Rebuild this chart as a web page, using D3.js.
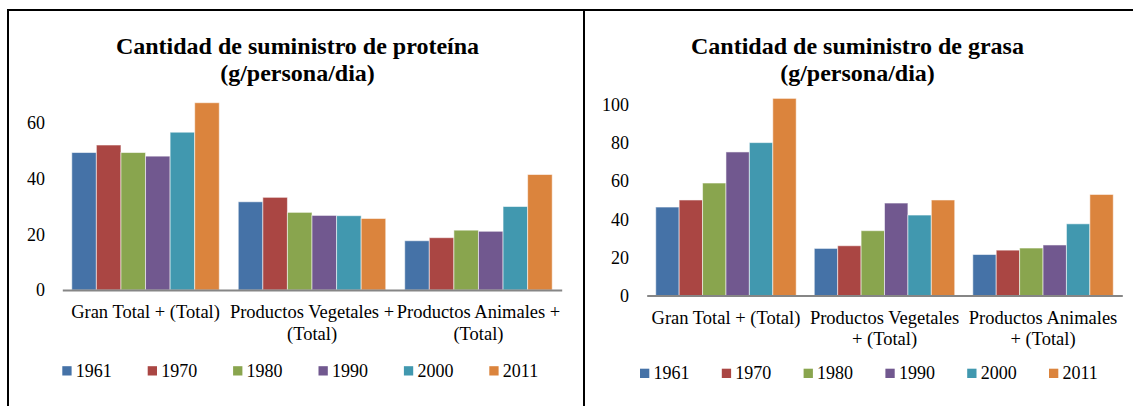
<!DOCTYPE html>
<html>
<head>
<meta charset="utf-8">
<script src="https://cdn.jsdelivr.net/npm/d3@7"></script>
<style>
  html, body { margin: 0; padding: 0; background: #fff; }
  svg { display: block; }
  text { font-family: "Liberation Serif", "Times New Roman", serif; fill: #000; }
</style>
</head>
<body>
<svg id="chart" width="1133" height="406"></svg>
<script>
// ---- Data ----
const years = ["1961", "1970", "1980", "1990", "2000", "2011"];
const yearColors = ["#4572A7", "#AA4643", "#89A54E", "#71588F", "#4198AF", "#DB843D"];

const proteinTitle = ["Cantidad de suministro de proteína", "(g/persona/dia)"];
const proteinCategories = ["Gran Total + (Total)", "Productos Vegetales +|(Total)", "Productos Animales +|(Total)"];
const proteinGranTotal = [49.4, 52.1, 49.4, 48.1, 56.7, 67.3];
const proteinVegetales = [31.7, 33.3, 27.9, 26.8, 26.7, 25.7];
const proteinAnimales  = [17.7, 18.8, 21.5, 21.1, 30.0, 41.5];
const proteinTicks = [0, 20, 40, 60];

const fatTitle = ["Cantidad de suministro de grasa", "(g/persona/dia)"];
const fatCategories = ["Gran Total + (Total)", "Productos Vegetales|+ (Total)", "Productos Animales|+ (Total)"];
const fatGranTotal = [46.4, 50.1, 59.0, 75.3, 80.2, 103.4];
const fatVegetales = [24.7, 26.1, 34.0, 48.5, 42.2, 50.1];
const fatAnimales  = [21.5, 23.8, 24.9, 26.5, 37.6, 53.0];
const fatTicks = [0, 20, 40, 60, 80, 100];

// ---- Drawing ----
const svg = d3.select("#chart");

// frame lines
svg.append("line").attr("x1", 7).attr("x2", 1133).attr("y1", 10).attr("y2", 10)
  .attr("stroke", "#000").attr("stroke-width", 2);
svg.append("line").attr("x1", 8).attr("x2", 8).attr("y1", 9).attr("y2", 406)
  .attr("stroke", "#000").attr("stroke-width", 2);
svg.append("line").attr("x1", 584).attr("x2", 584).attr("y1", 9).attr("y2", 406)
  .attr("stroke", "#000").attr("stroke-width", 2);

function drawChart(cfg) {
  const g = svg.append("g");
  const rows = cfg.categories.map((c, i) => ({ cat: c, values: cfg.series[i] }));

  const x0 = d3.scaleBand().domain(cfg.categories).range([cfg.x0, cfg.x1])
    .paddingInner(0.114).paddingOuter(0.057);
  const x1 = d3.scaleBand().domain(years).range([0, x0.bandwidth()]);
  const y = d3.scaleLinear().domain(cfg.domain).range([cfg.yBase, cfg.yTop]);

  // title
  const t = g.append("text").attr("text-anchor", "middle")
    .style("font-weight", "bold").style("font-size", "24px");
  cfg.title.forEach((line, i) => {
    t.append("tspan").attr("x", cfg.titleX).attr("y", cfg.titleY + i * 26.5).text(line);
  });

  // bars
  const grp = g.selectAll("g.cat").data(rows).enter().append("g")
    .attr("transform", d => `translate(${x0(d.cat)},0)`);
  grp.selectAll("rect").data(d => d.values.map((v, j) => ({ year: years[j], v, j })))
    .enter().append("rect")
    .attr("x", d => x1(d.year))
    .attr("width", x1.bandwidth())
    .attr("y", d => y(d.v))
    .attr("height", d => y(0) - y(d.v))
    .attr("fill", d => yearColors[d.j])
    .attr("stroke", "#fff").attr("stroke-opacity", 0.55).attr("stroke-width", 1);

  // y axis
  const ya = g.append("g").attr("transform", `translate(${cfg.x0},0)`)
    .call(d3.axisLeft(y).tickValues(cfg.ticks).tickSize(0).tickPadding(cfg.x0 - cfg.yLabelRight));
  ya.select(".domain").remove();
  ya.selectAll("text").style("font-size", "18px").style("font-family", "Liberation Serif").attr("fill", "#000");

  // x axis
  const xa = g.append("g").attr("transform", `translate(0,${cfg.yBase})`)
    .call(d3.axisBottom(x0).tickSize(0).tickSizeOuter(0));
  xa.select(".domain").attr("stroke", "#868686").attr("stroke-width", 2);
  xa.selectAll(".tick text").each(function(d) {
    const el = d3.select(this);
    el.text(null).attr("y", 0).attr("dy", null)
      .style("font-size", "18.5px").style("font-family", "Liberation Serif").attr("fill", "#000");
    d.split("|").forEach((line, i) => {
      el.append("tspan").attr("x", 0).attr("y", 28.3 + i * 21.3).text(line);
    });
  });

  // legend
  const lg = g.selectAll("g.leg").data(years).enter().append("g")
    .attr("transform", (d, i) => `translate(${cfg.legX + i * cfg.legStep},${cfg.legY})`);
  lg.append("rect").attr("x", 0).attr("y", -10.3).attr("width", 9.3).attr("height", 9.3)
    .attr("fill", (d, i) => yearColors[i]);
  lg.append("text").attr("x", 13.5).attr("y", 0).style("font-size", "18px").text(d => d);
}

drawChart({
  title: proteinTitle, categories: proteinCategories,
  series: [proteinGranTotal, proteinVegetales, proteinAnimales],
  ticks: proteinTicks, domain: [0, 70],
  x0: 62.3, x1: 561.7, yBase: 290, yTop: 95.2, yLabelRight: 45,
  titleX: 297.5, titleY: 54,
  legX: 62.3, legStep: 85.4, legY: 376.5
});

drawChart({
  title: fatTitle, categories: fatCategories,
  series: [fatGranTotal, fatVegetales, fatAnimales],
  ticks: fatTicks, domain: [0, 110],
  x0: 646.7, x1: 1122.3, yBase: 295.5, yTop: 85.8, yLabelRight: 629,
  titleX: 857.5, titleY: 54,
  legX: 640, legStep: 81.8, legY: 379
});
</script>
</body>
</html>
